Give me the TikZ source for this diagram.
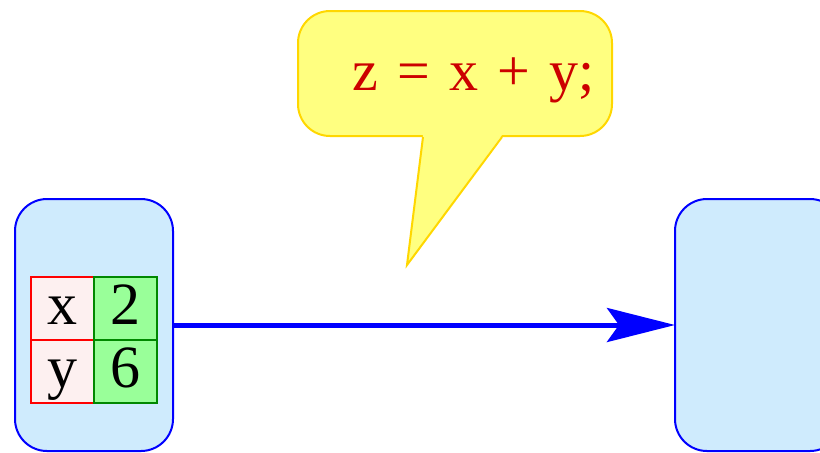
\documentclass[tikz,border=0pt]{standalone}
\usepackage{fontspec}
\setmainfont{Liberation Serif}
\usetikzlibrary{positioning,calc,arrows.meta}
\definecolor{stateblue}{RGB}{0,0,255}
\definecolor{statefill}{RGB}{207,235,253}
\definecolor{namered}{RGB}{255,0,0}
\definecolor{namefill}{RGB}{253,240,240}
\definecolor{valgreen}{RGB}{0,136,0}
\definecolor{valfill}{RGB}{153,255,153}
\definecolor{bubblefill}{RGB}{255,255,128}
\definecolor{bubbleline}{RGB}{255,215,0}
\definecolor{codered}{RGB}{204,0,0}
\tikzset{
    state/.style={rectangle, rounded corners=16pt, draw=stateblue, fill=statefill, line width=1pt, minimum width=79pt, minimum height=126pt, outer sep=0pt},
    varname/.style={rectangle, draw=namered, fill=namefill, line width=1pt, minimum size=31.5pt, inner sep=0pt, outer sep=0pt, text height=20pt, text depth=4pt, font=\fontsize{30}{36}\selectfont},
    varval/.style={rectangle, draw=valgreen, fill=valfill, line width=1pt, minimum size=31.5pt, inner sep=0pt, outer sep=0pt, text height=20pt, text depth=4pt, font=\fontsize{30}{36}\selectfont},
    bubble/.style={rectangle, rounded corners=16pt, draw=bubbleline, fill=bubblefill, line width=1pt, minimum width=157pt, minimum height=62.5pt, text width=140pt, align=right, inner xsep=8.5pt, text height=21pt, text depth=4.5pt, text=codered, font=\fontsize{29}{34}\selectfont},
    trans/.style={line width=2.5pt, stateblue, -{Stealth[length=34pt, width=17pt, inset=6pt]}},
}

\begin{document}
\begin{tikzpicture}[x=0.5pt, y=-0.5pt]
    \clip (0,0) rectangle (820,452);
    % states
    \node[state] (s0) at (94,325) {};
    \node[state, minimum width=83.5pt] (s1) at (758.5,325) {};
    % variables in s0
    \node[varname] (nx) at (62.5,308.5) {x};
    \node[varval, right=0pt of nx] (vx) {2};
    \node[varname, below=0pt of nx] (ny) {y};
    \node[varval, right=0pt of ny] (vy) {6};
    \draw[trans] (s0) -- (s1);
    % statement
    \node[bubble] (say) at (455,73.5) {z = x + y;};
    \coordinate (tip) at (407,265);
    \fill[bubblefill] ($(say.south)+(-32,-2)$) -- ($(say.south)+(47,-2)$) -- (tip) -- cycle;
    \draw[bubbleline, line width=1pt] ($(say.south)+(-32,0)$) -- (tip) -- ($(say.south)+(47,0)$);
\end{tikzpicture}
\end{document}
